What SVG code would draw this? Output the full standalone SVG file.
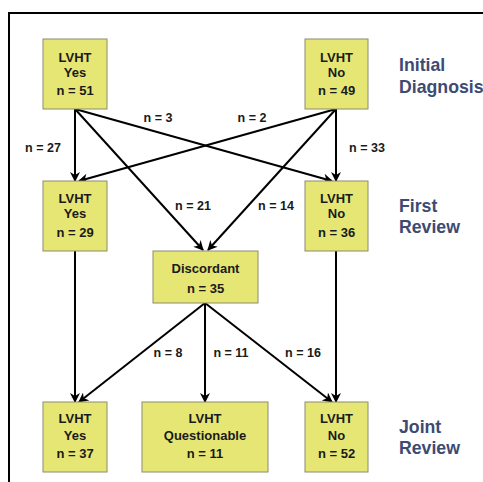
<svg xmlns="http://www.w3.org/2000/svg" width="483" height="482" viewBox="0 0 483 482">
<style>
.box{fill:#e6e674;stroke:#8c8c70;stroke-width:1}
.bt{font-family:"Liberation Sans",Arial,sans-serif;font-weight:bold;font-size:13px;fill:#1a1a1a;text-anchor:middle}
.el{font-family:"Liberation Sans",Arial,sans-serif;font-weight:bold;font-size:12.5px;fill:#1a1a1a;text-anchor:middle}
.side{font-family:"Liberation Sans",Arial,sans-serif;font-weight:bold;font-size:17.7px;fill:#3d4a72}
.ln{stroke:#000;stroke-width:2;fill:none;marker-end:url(#ah)}
</style>
<defs>
<marker id="ah" viewBox="0 0 10 10" refX="9" refY="5" markerWidth="5" markerHeight="5" markerUnits="strokeWidth" orient="auto">
<path d="M0,0 L10,5 L0,10 L3,5 Z" fill="#000"/>
</marker>
</defs>
<rect x="0" y="0" width="483" height="482" fill="#fff"/>
<path d="M9,482 V13 H483" fill="none" stroke="#000" stroke-width="2"/>
<g id="connectors">
<line class="ln" x1="75" y1="109" x2="75" y2="181"/>
<line class="ln" x1="75" y1="109" x2="203" y2="250"/>
<line class="ln" x1="75" y1="109" x2="332" y2="181"/>
<line class="ln" x1="336" y1="109" x2="336" y2="181"/>
<line class="ln" x1="336" y1="109" x2="208" y2="250"/>
<line class="ln" x1="336" y1="109" x2="79" y2="181"/>
<line class="ln" x1="75" y1="251" x2="75" y2="402"/>
<line class="ln" x1="336" y1="251" x2="336" y2="402"/>
<line class="ln" x1="205" y1="303" x2="79" y2="402"/>
<line class="ln" x1="205" y1="303" x2="205" y2="402"/>
<line class="ln" x1="205" y1="303" x2="332" y2="402"/>
<text class="el" x="158" y="121.5">n = 3</text>
<text class="el" x="252" y="121.5">n = 2</text>
<text class="el" x="43" y="151.5">n = 27</text>
<text class="el" x="367" y="151.5">n = 33</text>
<text class="el" x="193" y="209.5">n = 21</text>
<text class="el" x="276" y="209.5">n = 14</text>
<text class="el" x="168" y="356.5">n = 8</text>
<text class="el" x="231" y="356.5">n = 11</text>
<text class="el" x="303" y="356.5">n = 16</text>
</g>
<g id="init-yes">
<rect class="box" x="43" y="39" width="64" height="70"/>
<text class="bt" x="75" y="61.5">LVHT</text>
<text class="bt" x="75" y="77">Yes</text>
<text class="bt" x="75" y="95">n = 51</text>
</g>
<g id="init-no">
<rect class="box" x="305" y="39" width="63" height="70"/>
<text class="bt" x="336.5" y="61.5">LVHT</text>
<text class="bt" x="336.5" y="77">No</text>
<text class="bt" x="336.5" y="95">n = 49</text>
</g>
<g id="first-yes">
<rect class="box" x="43" y="181" width="64" height="70"/>
<text class="bt" x="75" y="203">LVHT</text>
<text class="bt" x="75" y="218">Yes</text>
<text class="bt" x="75" y="237">n = 29</text>
</g>
<g id="first-no">
<rect class="box" x="305" y="181" width="63" height="70"/>
<text class="bt" x="336.5" y="203">LVHT</text>
<text class="bt" x="336.5" y="218">No</text>
<text class="bt" x="336.5" y="237">n = 36</text>
</g>
<g id="discordant">
<rect class="box" x="153" y="251" width="105" height="52"/>
<text class="bt" x="205.5" y="273">Discordant</text>
<text class="bt" x="205.5" y="293">n = 35</text>
</g>
<g id="joint-yes">
<rect class="box" x="43" y="402" width="64" height="70"/>
<text class="bt" x="75" y="423">LVHT</text>
<text class="bt" x="75" y="440">Yes</text>
<text class="bt" x="75" y="458">n = 37</text>
</g>
<g id="joint-q">
<rect class="box" x="142" y="402" width="126" height="70"/>
<text class="bt" x="205" y="423">LVHT</text>
<text class="bt" x="205" y="440">Questionable</text>
<text class="bt" x="205" y="458">n = 11</text>
</g>
<g id="joint-no">
<rect class="box" x="305" y="402" width="63" height="70"/>
<text class="bt" x="336.5" y="423">LVHT</text>
<text class="bt" x="336.5" y="440">No</text>
<text class="bt" x="336.5" y="458">n = 52</text>
</g>
<g id="labels">
<text class="side" x="399" y="71">Initial</text>
<text class="side" x="399" y="93">Diagnosis</text>
<text class="side" x="399" y="212">First</text>
<text class="side" x="399" y="233">Review</text>
<text class="side" x="399" y="433">Joint</text>
<text class="side" x="399" y="454">Review</text>
</g>
</svg>
